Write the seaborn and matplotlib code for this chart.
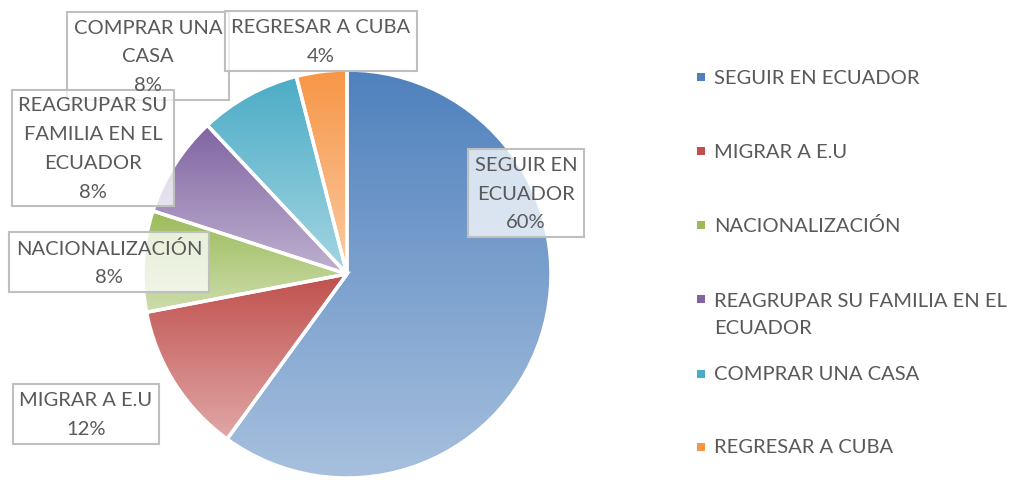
import numpy as np
import seaborn as sns
import matplotlib.pyplot as plt
from matplotlib.colors import LinearSegmentedColormap, to_rgb
from matplotlib.patches import Rectangle

# Data
categories = ["SEGUIR EN ECUADOR", "MIGRAR A E.U", "NACIONALIZACIÓN",
              "REAGRUPAR SU FAMILIA EN EL\nECUADOR", "COMPRAR UNA CASA", "REGRESAR A CUBA"]
box_labels = ["SEGUIR EN\nECUADOR", "MIGRAR A E.U", "NACIONALIZACIÓN",
              "REAGRUPAR SU\nFAMILIA EN EL\nECUADOR", "COMPRAR UNA\nCASA", "REGRESAR A CUBA"]
values = [60, 12, 8, 8, 8, 4]
colors = ["#4F81BD", "#C0504D", "#9BBB59", "#8064A2", "#4BACC6", "#F79646"]

# Layout (pixel coords, y from top)
W, H = 1017, 481
pie_center = (347, 275)
pie_radius = 204
label_pos = [(526, 194), (86, 415), (109, 263), (93, 149), (148, 57), (321, 42)]
label_order = [0, 1, 2, 4, 3, 5]
legend_x = 714
legend_y = [78, 152, 226, 315, 375, 448]
legend_marker_y = [78, 152, 226, 300, 375, 448]
text_color = "#595959"

sns.set_theme(style="white")
plt.rcParams['font.family'] = ['Lato', 'DejaVu Sans']

fig = plt.figure(figsize=(W / 100, H / 100), dpi=100)
ax = fig.add_axes([0, 0, 1, 1])

wedges, _ = ax.pie(values, colors=colors, startangle=90, counterclock=False,
                   center=(pie_center[0], H - pie_center[1]), radius=pie_radius,
                   wedgeprops=dict(edgecolor="white", linewidth=2.5))

# vertical gradient per slice, clipped to the wedge
grad = np.linspace(0, 1, 256).reshape(-1, 1)
for w, c in zip(wedges, colors):
    base = np.array(to_rgb(c))
    light = base + (1 - base) * 0.5
    cmap = LinearSegmentedColormap.from_list("g", [base, light])
    ext = w.get_path().get_extents()
    im = ax.imshow(grad, cmap=cmap, extent=[ext.x0, ext.x1, ext.y0, ext.y1],
                   origin="upper", aspect="auto", zorder=1)
    im.set_clip_path(w)
    w.set_facecolor("none")
    w.set_zorder(2)

# Data labels: boxes first, then all texts on top
label_kw = dict(ha="center", va="center", fontsize=14.5, linespacing=1.85)
for i in label_order:
    x, y = label_pos[i]
    txt = f"{box_labels[i]}\n{values[i]}%"
    ax.text(x, H - y, txt, color="none", zorder=4, **label_kw,
            bbox=dict(boxstyle="square,pad=0.33", fc=(1, 1, 1, 0.75),
                      ec="#BFBFBF", lw=1.5))
    ax.text(x, H - y, txt, color=text_color, zorder=5, **label_kw)

# Legend
for name, c, y, my in zip(categories, colors, legend_y, legend_marker_y):
    ax.add_patch(Rectangle((legend_x - 17, H - my - 4), 8, 8,
                           fc=c, ec="none", zorder=5))
    ax.text(legend_x, H - y, name, ha="left", va="center",
            fontsize=14.5, color=text_color, linespacing=1.7, zorder=5)

ax.set_xlim(0, W)
ax.set_ylim(0, H)
ax.set_aspect("auto")
ax.axis("off")

fig.savefig("out.png", dpi=100)
